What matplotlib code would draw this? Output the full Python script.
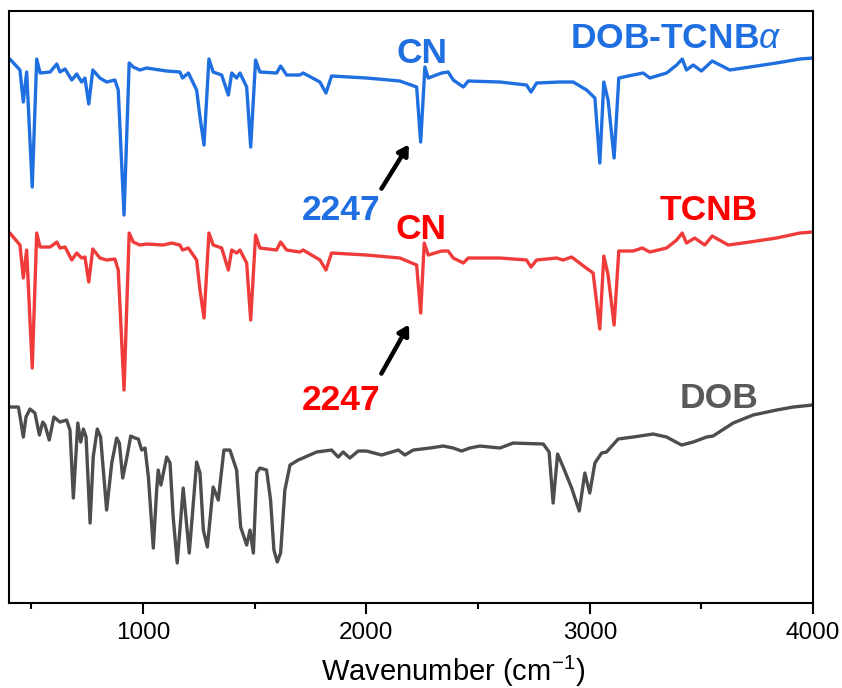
import matplotlib
matplotlib.use("Agg")
import matplotlib.pyplot as plt
from matplotlib.ticker import MultipleLocator

plt.rcParams['font.family'] = ['Liberation Sans', 'DejaVu Sans']
plt.rcParams['mathtext.fontset'] = 'custom'
plt.rcParams['mathtext.rm'] = 'Liberation Sans'
plt.rcParams['mathtext.it'] = 'Liberation Sans:italic'

# DOB-TCNB alpha co-crystal (top trace)
wn_cocrystal = [404, 449, 464, 479, 504, 524, 539, 584, 614, 628, 651, 681, 703, 725, 740, 757,
                775, 807, 837, 874, 889, 915, 938, 956, 986, 1016, 1106, 1165, 1177, 1203, 1240,
                1255, 1273, 1295, 1314, 1352, 1382, 1397, 1419, 1434, 1464, 1482, 1504, 1523,
                1598, 1616, 1643, 1702, 1717, 1792, 1819, 1844, 2001, 2150, 2225, 2243, 2262,
                2277, 2337, 2366, 2389, 2434, 2456, 2598, 2717, 2737, 2762, 2866, 2926, 2986,
                3023, 3045, 3063, 3082, 3109, 3130, 3194, 3239, 3269, 3344, 3389, 3414, 3433,
                3463, 3500, 3548, 3627, 3717, 3836, 3941, 3997]
t_cocrystal = [544, 533, 501, 531, 416, 544, 530, 531, 539, 531, 534, 523, 529, 521, 525, 499,
               533, 525, 521, 523, 513, 388, 540, 536, 533, 535, 532, 531, 525, 530, 513,
               486, 458, 544, 531, 528, 508, 530, 525, 530, 516, 456, 543, 531,
               530, 537, 528, 528, 530, 521, 510, 527, 525, 522, 516, 461, 536,
               525, 530, 531, 523, 516, 522, 521, 518, 511, 520, 521, 521, 513,
               505, 440, 521, 503, 445, 525, 528, 530, 525, 530, 538, 544, 533,
               538, 532, 542, 533, 536, 540, 544, 545]

# TCNB (middle trace)
wn_tcnb = [404, 449, 464, 479, 504, 524, 539, 584, 614, 628, 651, 681, 703, 725, 740, 757,
           775, 807, 837, 874, 889, 915, 938, 956, 986, 1016, 1091, 1128, 1165, 1177, 1203,
           1240, 1255, 1273, 1295, 1314, 1352, 1382, 1397, 1419, 1434, 1464, 1482, 1504,
           1523, 1598, 1616, 1643, 1702, 1717, 1792, 1819, 1844, 2001, 2150, 2225, 2243,
           2259, 2277, 2337, 2366, 2389, 2434, 2456, 2598, 2717, 2737, 2762, 2851, 2881,
           2919, 2978, 3015, 3045, 3063, 3082, 3109, 3130, 3194, 3235, 3269, 3344, 3389,
           3414, 3433, 3470, 3515, 3548, 3620, 3717, 3836, 3941, 3997]
t_tcnb = [370, 358, 325, 353, 235, 370, 356, 356, 361, 355, 356, 343, 350, 345, 346, 321,
          354, 345, 343, 344, 333, 213, 370, 361, 358, 359, 358, 360, 358, 353, 355,
          343, 313, 285, 370, 358, 355, 333, 353, 350, 353, 340, 283, 368,
          355, 353, 361, 353, 351, 353, 343, 333, 350, 348, 345, 338, 290,
          360, 348, 352, 352, 345, 340, 345, 345, 343, 336, 343, 345, 343,
          346, 336, 330, 274, 347, 328, 278, 352, 352, 355, 351, 355, 363,
          370, 360, 365, 358, 367, 358, 361, 365, 370, 371]

# DOB (bottom trace)
wn_dob = [404, 442, 452, 464, 476, 494, 516, 536, 551, 561, 580, 601, 628, 658, 673, 688,
          708, 721, 733, 745, 763, 777, 795, 810, 837, 860, 882, 894, 909, 927, 945, 964,
          979, 994, 1009, 1024, 1046, 1061, 1068, 1080, 1106, 1121, 1135, 1153, 1180, 1207,
          1240, 1255, 1270, 1288, 1314, 1337, 1362, 1389, 1419, 1437, 1464, 1479, 1494,
          1509, 1523, 1553, 1571, 1586, 1601, 1616, 1635, 1658, 1695, 1777, 1844, 1874,
          1896, 1926, 1963, 2001, 2068, 2143, 2172, 2210, 2284, 2344, 2389, 2426, 2463,
          2508, 2598, 2657, 2792, 2818, 2836, 2856, 2881, 2919, 2953, 2978, 3000, 3023,
          3053, 3075, 3127, 3194, 3284, 3344, 3411, 3463, 3523, 3552, 3642, 3731, 3836,
          3911, 3997]
t_dob = [196, 196, 183, 166, 186, 194, 190, 168, 181, 178, 163, 186, 181, 183, 173, 105,
         180, 161, 174, 166, 80, 146, 174, 166, 93, 140, 165, 160, 125, 145, 167, 165,
         164, 153, 155, 126, 55, 113, 133, 118, 146, 140, 86, 40, 115, 50,
         141, 130, 73, 56, 116, 103, 153, 153, 133, 76, 58, 73, 50,
         130, 135, 133, 103, 53, 41, 50, 113, 138, 143, 151, 153, 146,
         151, 145, 152, 152, 148, 153, 148, 153, 155, 157, 155, 152, 155,
         157, 155, 160, 159, 151, 100, 149, 136, 115, 92, 130, 110, 140,
         150, 151, 164, 166, 169, 166, 158, 161, 166, 167, 180, 188, 193,
         196, 198]

x_ticks = [1000, 2000, 3000, 4000]
cn_band = 2247

blue = '#1F6FE0'
red_line = '#F03B3B'
red_text = '#FF0000'
grey = '#4D4D4D'

fig = plt.figure(figsize=(8.42, 6.88), dpi=100)
ax = fig.add_axes([0.0107, 0.1235, 0.955, 0.8605])

line_kw = dict(lw=2.4, solid_joinstyle='round', solid_capstyle='round')
ax.plot(wn_cocrystal, t_cocrystal, color=blue, **line_kw)
ax.plot(wn_tcnb, t_tcnb, color=red_line, **line_kw)
ax.plot(wn_dob, t_dob, color=grey, **line_kw)

ax.set_xlim(400, 4000)
ax.set_ylim(0, 592)
ax.set_yticks([])
ax.set_xticks(x_ticks)
ax.xaxis.set_minor_locator(MultipleLocator(500))
ax.tick_params(axis='x', which='major', direction='out', length=8, width=1.5, labelsize=17.5, pad=6)
ax.tick_params(axis='x', which='minor', direction='out', length=4, width=1.5)
for s in ax.spines.values():
    s.set_linewidth(1.5)
ax.set_xlabel('Wavenumber (cm$^{-1}$)', fontsize=21)
ax.xaxis.set_label_coords(0.552, -0.086)

# labels and CN arrows
bold = dict(fontsize=25.5, fontweight='bold', ha='center', va='center')
ax.text(2249, 550, 'CN', color=blue, **bold)
ax.text(3385, 565, 'DOB-TCNB$\\alpha$', color=blue, **bold)
ax.text(1886, 393, str(cn_band), color=blue, **bold)
ax.text(2244, 374, 'CN', color=red_text, **bold)
ax.text(3533, 393, 'TCNB', color=red_text, **bold)
ax.text(1886, 203, str(cn_band), color=red_text, **bold)
ax.text(3578, 205, 'DOB', color='#5A5A5A', **bold)

arrow = dict(arrowstyle='-|>,head_length=0.6,head_width=0.35', color='black', lw=3.2)
ax.annotate('', xy=(2197, 461), xytext=(2061, 412), arrowprops=arrow)
ax.annotate('', xy=(2197, 281), xytext=(2061, 227), arrowprops=arrow)

fig.savefig('out.png', dpi=100)
